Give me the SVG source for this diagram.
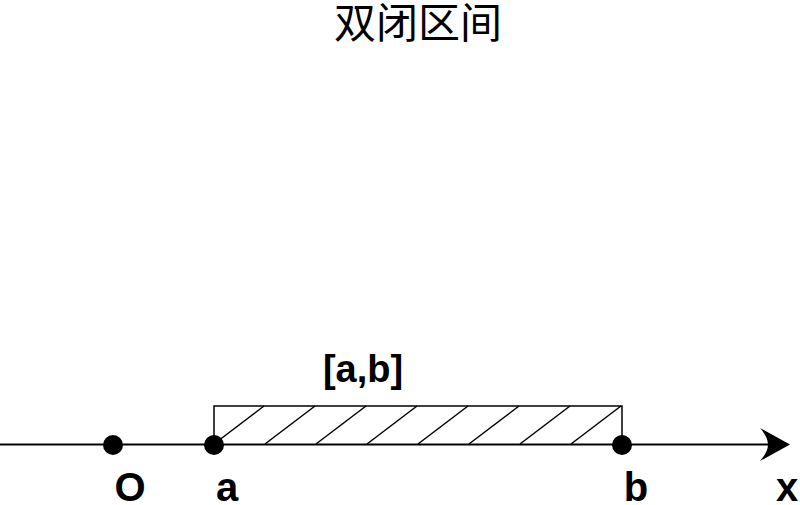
<svg xmlns="http://www.w3.org/2000/svg" width="800" height="505" viewBox="0 0 800 505">
  <style>
    .lbl { font-family: "Liberation Sans", Arial, sans-serif; font-weight: bold; fill: #000; text-anchor: middle; }
    .title { font-family: "Noto Sans CJK SC", "Noto Sans", sans-serif; font-size: 42px; fill: #000; text-anchor: middle; }
    .ln { stroke: #000; fill: none; }
    .dot { fill: #000; }
  </style>
  <rect width="800" height="505" fill="#fff"/>
  <g id="title">
    <text class="title" x="418" y="38">双闭区间</text>
  </g>
  <g id="connectors">
    <line class="ln" x1="0" y1="444.5" x2="780" y2="444.5" stroke-width="2"/>
    <path d="M790,444.5 L760,428 Q768,437 768,444.5 Q768,452 760,461 Z" fill="#000"/>
  </g>
  <g id="interval">
    <path class="ln" stroke-width="1.5" d="M214,444 V406 H622 V444"/>
    <g class="ln" stroke-width="1.5">
      <line x1="214" y1="444" x2="264" y2="406"/>
      <line x1="265" y1="444" x2="315" y2="406"/>
      <line x1="316" y1="444" x2="366" y2="406"/>
      <line x1="367" y1="444" x2="417" y2="406"/>
      <line x1="418" y1="444" x2="468" y2="406"/>
      <line x1="469" y1="444" x2="519" y2="406"/>
      <line x1="520" y1="444" x2="570" y2="406"/>
      <line x1="571" y1="444" x2="621" y2="406"/>
    </g>
    <text class="lbl" x="363" y="382" font-size="38">[a,b]</text>
  </g>
  <g id="node-O">
    <circle class="dot" cx="113" cy="445" r="10"/>
    <text class="lbl" x="130" y="501" font-size="40">O</text>
  </g>
  <g id="node-a">
    <circle class="dot" cx="214" cy="445" r="10"/>
    <text class="lbl" x="227" y="501" font-size="40">a</text>
  </g>
  <g id="node-b">
    <circle class="dot" cx="622" cy="445" r="10"/>
    <text class="lbl" x="636" y="501" font-size="40">b</text>
  </g>
  <g id="axis-label">
    <text class="lbl" x="787" y="501" font-size="40">x</text>
  </g>
</svg>
